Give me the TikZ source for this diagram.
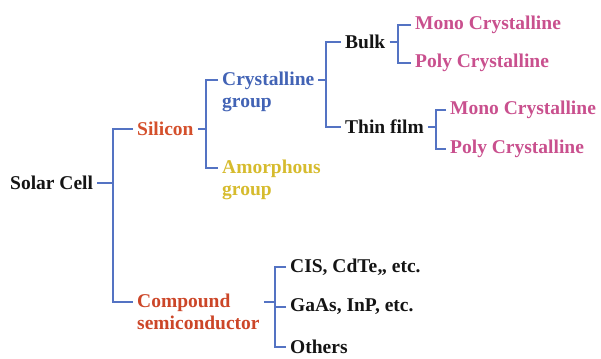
\documentclass[tikz,border=0pt]{standalone}
\usepackage{fontspec}
\setmainfont{Liberation Serif}
\usepackage{tikz}
\usetikzlibrary{positioning}
\definecolor{brk}{HTML}{5473c3}
\definecolor{siRed}{HTML}{d4502c}
\definecolor{cmpRed}{HTML}{cc4628}
\definecolor{crBlue}{HTML}{4263b5}
\definecolor{amYel}{HTML}{d6bb2e}
\definecolor{mpPink}{HTML}{c9508e}
\definecolor{ink}{HTML}{141414}

\begin{document}
\begin{tikzpicture}[
  x=1pt, y=-1pt,
  font=\fontsize{19.5}{22}\selectfont\bfseries,
  lbl/.style={inner xsep=4pt, inner ysep=0pt, anchor=west, text=ink},
  two/.style={lbl, anchor=north west, align=left},
  arm/.style={draw=brk, line width=1.4pt},
]
\useasboundingbox (0,0) rectangle (601,358);
% root
\node[lbl] (solar) at (6,183) {Solar Cell};
% first level
\node[lbl, text=siRed] (silicon) at (133,129) {Silicon};
\node[two, text=cmpRed] (compound) at (133,294) {Compound\\semiconductor};
% silicon branch
\node[two, text=crBlue] (cryst) at (218,72) {Crystalline\\group};
\node[two, text=amYel] (amorph) at (218,160) {Amorphous\\group};
\node[lbl] (bulk) at (341,42) {Bulk};
\node[lbl] (thin) at (341,127) {Thin film};
\node[lbl, text=mpPink] (mono1) at (411,25) {Mono Crystalline};
\node[lbl, text=mpPink] (poly1) at (411,63) {Poly Crystalline};
\node[lbl, text=mpPink] (mono2) at (446,110) {Mono Crystalline};
\node[lbl, text=mpPink] (poly2) at (446,149) {Poly Crystalline};
% compound branch
\node[lbl] (cis) at (286,267) {CIS, CdTe,, etc.};
\node[lbl] (gaas) at (286,307) {GaAs, InP, etc.};
\node[lbl] (others) at (286,347) {Others};
% spines
\coordinate (sp1) at (113,183);
\coordinate (sp2) at (206,129);
\coordinate (sp3) at (326,80);
\coordinate (sp4) at (398,42);
\coordinate (sp5) at (436,127);
\coordinate (sp6) at (275,304);
% brackets
\draw[arm] (solar.east) -- (sp1);
\draw[arm] (silicon.west) -| (sp1) |- ([yshift=-8pt]compound.north west);
\draw[arm] (silicon.east) -- (sp2);
\draw[arm] ([yshift=-8pt]cryst.north west) -| (sp2) |- ([yshift=-8pt]amorph.north west);
\draw[arm] ([yshift=-8pt]cryst.north east) -- (sp3);
\draw[arm] (bulk.west) -| (sp3) |- (thin.west);
\draw[arm] (bulk.east) -- (sp4);
\draw[arm] (mono1.west) -| (sp4) |- (poly1.west);
\draw[arm] (thin.east) -- (sp5);
\draw[arm] (mono2.west) -| (sp5) |- (poly2.west);
\draw[arm] ([yshift=-8pt]compound.north east) -- ([yshift=-8pt]compound.north east -| sp6);
\draw[arm] (cis.west) -| (sp6) |- (others.west);
\draw[arm] (gaas.west) -- (gaas.west -| sp6);
\end{tikzpicture}
\end{document}
